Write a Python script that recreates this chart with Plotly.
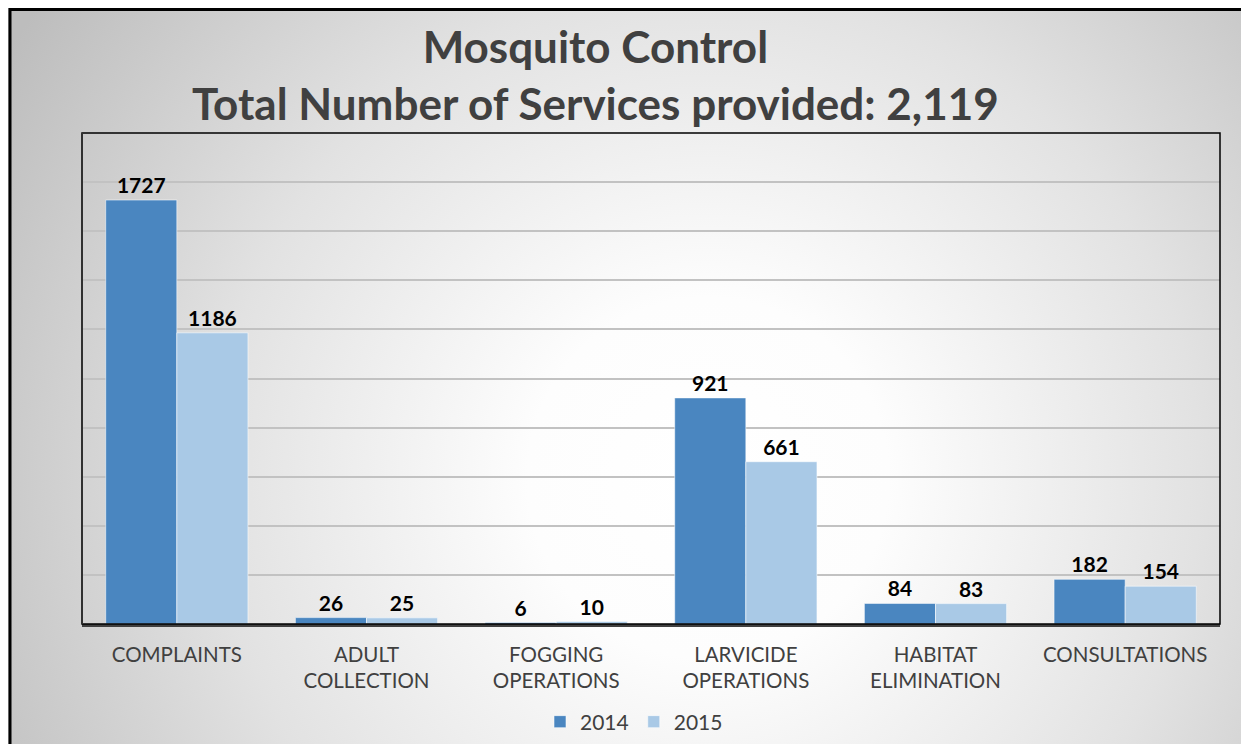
import plotly.graph_objects as go
import base64

categories = ["COMPLAINTS", "ADULT<br>COLLECTION", "FOGGING<br>OPERATIONS",
              "LARVICIDE<br>OPERATIONS", "HABITAT<br>ELIMINATION", "CONSULTATIONS"]
values_2014 = [1727, 26, 6, 921, 84, 182]
values_2015 = [1186, 25, 10, 661, 83, 154]
series_names = ["2014", "2015"]
title_lines = ["Mosquito Control", "Total Number of Services provided: 2,119"]

OFF = 8  # browser body margin
W, H = 1249 - OFF, 744 - OFF
L, T = 82 - OFF, 133 - OFF
R = W - (1220 - OFF)
B = H - (624 - OFF)
pw, ph = W - L - R, H - T - B

FONT = "Lato"
TXT = "#404040"

svg = f'''<svg xmlns="http://www.w3.org/2000/svg" width="{W}" height="{H}" viewBox="0 0 {W} {H}">
<defs><radialGradient id="g" gradientUnits="userSpaceOnUse" cx="700" cy="470" r="820">
<stop offset="0" stop-color="#ffffff"/><stop offset="0.22" stop-color="#fdfdfd"/>
<stop offset="0.6" stop-color="#e2e2e2"/>
<stop offset="1" stop-color="#bdbdbd"/></radialGradient></defs>
<rect x="0" y="0" width="{W}" height="{H}" fill="url(#g)"/></svg>'''
bg_uri = "data:image/svg+xml;base64," + base64.b64encode(svg.encode()).decode()

fig = go.Figure()
fig.add_trace(go.Bar(
    x=categories, y=values_2014, name=series_names[0],
    marker=dict(color="#4a86c0", line=dict(color="rgba(255,255,255,0.55)", width=1)),
    text=values_2014, textposition="outside", cliponaxis=False,
    textfont=dict(family=FONT, size=21, color="#000000", weight="bold"),
))
fig.add_trace(go.Bar(
    x=categories, y=values_2015, name=series_names[1],
    marker=dict(color="#a9c9e6", line=dict(color="rgba(255,255,255,0.55)", width=1)),
    text=values_2015, textposition="outside", cliponaxis=False,
    textfont=dict(family=FONT, size=21, color="#000000", weight="bold"),
))

fig.update_layout(
    width=W, height=H, autosize=False,
    margin=dict(l=L, r=R, t=T, b=B, autoexpand=False),
    paper_bgcolor="#d0d0d0", plot_bgcolor="rgba(0,0,0,0)",
    barmode="group", bargap=0.25, bargroupgap=0.0,
    showlegend=True,
    legend=dict(orientation="h", x=(634 - 82) / pw, y=(624 - 722) / ph,
                xanchor="center", yanchor="middle",
                font=dict(family=FONT, size=21, color=TXT),
                bgcolor="rgba(0,0,0,0)"),
    font=dict(family=FONT, color=TXT),
    images=[dict(source=bg_uri, xref="paper", yref="paper",
                 x=-L / pw, y=1 + T / ph, sizex=W / pw, sizey=H / ph,
                 xanchor="left", yanchor="top", sizing="stretch", layer="below")],
    xaxis=dict(showline=True, linecolor="#404040", linewidth=3, automargin=False,
               ticks="", tickfont=dict(family=FONT, size=20.5, color=TXT),
               ticklabelstandoff=10, showgrid=False),
    yaxis=dict(range=[0, 2000], dtick=200, showticklabels=False, automargin=False,
               showgrid=True, gridcolor="#c2c2c2", gridwidth=1.5,
               zeroline=False, showline=False, ticks=""),
)

# plot area frame and outer border
fig.add_shape(type="rect", xref="paper", yref="paper", x0=0, x1=1, y0=0, y1=1,
              line=dict(color="#000000", width=1.5), layer="above")
fig.add_shape(type="line", xref="paper", yref="paper", x0=0, x1=0, y0=0, y1=1,
              line=dict(color="#303030", width=2), layer="above")
fig.add_shape(type="rect", xref="paper", yref="paper",
              x0=(10 - 82) / pw, x1=(W + 20 - L) / pw,
              y0=-(H + 20 - T - ph) / ph, y1=1 + (133 - 9.5) / ph,
              line=dict(color="#000000", width=3), layer="above")

fig.add_annotation(text="<br>".join(title_lines), xref="paper", yref="paper",
                   x=(595 - 82) / pw, y=1 + (133 - 75) / ph,
                   xanchor="center", yanchor="middle", showarrow=False,
                   font=dict(family=FONT, size=44, color=TXT, weight="bold"),
                   align="center")

fig.write_html("out.html")
